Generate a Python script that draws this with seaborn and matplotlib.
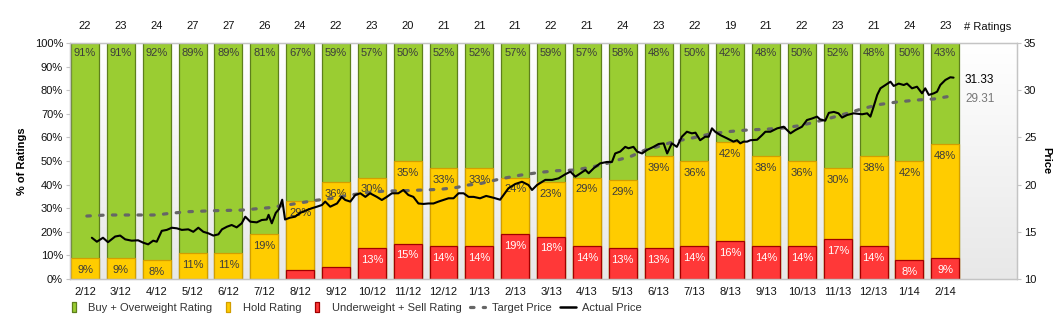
import numpy as np
import pandas as pd
import matplotlib
matplotlib.use("Agg")
import matplotlib.pyplot as plt
import matplotlib.transforms as mtransforms
import seaborn as sns
from matplotlib.lines import Line2D
from matplotlib.colors import LinearSegmentedColormap

sns.set_style("white")
plt.rcParams['font.family'] = ['Liberation Sans', 'DejaVu Sans']

# ---------------- data ----------------
months = ['2/12', '3/12', '4/12', '5/12', '6/12', '7/12', '8/12', '9/12', '10/12', '11/12',
          '12/12', '1/13', '2/13', '3/13', '4/13', '5/13', '6/13', '7/13', '8/13', '9/13',
          '10/13', '11/13', '12/13', '1/14', '2/14']
num_ratings = [22, 23, 24, 27, 27, 26, 24, 22, 23, 20, 21, 21, 21, 22, 21, 24, 23, 22, 19, 21,
               22, 23, 21, 24, 23]
buy_pct = [91, 91, 92, 89, 89, 81, 67, 59, 57, 50, 52, 52, 57, 59, 57, 58, 48, 50, 42, 48,
           50, 52, 48, 50, 43]
hold_pct = [9, 9, 8, 11, 11, 19, 29, 36, 30, 35, 33, 33, 24, 23, 29, 29, 39, 36, 42, 38,
            36, 30, 38, 42, 48]
sell_pct = [0, 0, 0, 0, 0, 0, 4, 5, 13, 15, 14, 14, 19, 18, 14, 13, 13, 14, 16, 14,
            14, 17, 14, 8, 9]

# price series (x = months since the 2/12 bar)
actual_month = [0.19, 0.33, 0.50, 0.64, 0.84, 0.98, 1.12, 1.30, 1.48, 1.62,
                1.76, 1.90, 2.00, 2.14, 2.28, 2.42, 2.56, 2.70, 2.88, 3.02,
                3.16, 3.30, 3.44, 3.58, 3.72, 3.82, 3.96, 4.09, 4.23, 4.37,
                4.47, 4.61, 4.79, 4.93, 5.07, 5.12, 5.21, 5.32, 5.41, 5.50,
                5.58, 5.72, 5.86, 6.00, 6.19, 6.33, 6.47, 6.61, 6.70, 6.84,
                7.03, 7.16, 7.26, 7.40, 7.54, 7.68, 7.82, 7.95, 8.14, 8.28,
                8.42, 8.56, 8.74, 8.88, 9.02, 9.16, 9.30, 9.44, 9.58, 9.72,
                9.86, 10.00, 10.14, 10.28, 10.42, 10.56, 10.70, 10.84, 11.02, 11.19,
                11.40, 11.58, 11.81, 12.00, 12.19, 12.37, 12.47, 12.61, 12.84, 13.03,
                13.21, 13.40, 13.54, 13.68, 13.82, 13.96, 14.05, 14.19, 14.37, 14.56,
                14.70, 14.79, 14.93, 15.07, 15.16, 15.30, 15.40, 15.54, 15.68, 15.86,
                16.00, 16.14, 16.24, 16.37, 16.51, 16.65, 16.79, 16.93, 17.03, 17.16,
                17.30, 17.40, 17.49, 17.58, 17.72, 17.91, 18.09, 18.19, 18.28, 18.37,
                18.47, 18.56, 18.75, 18.89, 18.98, 19.12, 19.31, 19.49, 19.68, 19.82,
                20.00, 20.14, 20.28, 20.42, 20.51, 20.65, 20.75, 20.89, 21.02, 21.12,
                21.26, 21.44, 21.68, 21.82, 21.91, 22.00, 22.10, 22.19, 22.33, 22.47,
                22.56, 22.70, 22.84, 22.93, 23.07, 23.21, 23.35, 23.44, 23.54, 23.68,
                23.77, 23.86, 24.00, 24.14, 24.23]
actual_price = [14.37, 13.95, 14.37, 13.90, 14.50, 14.60, 14.20, 14.06, 14.10, 13.85,
                13.67, 14.06, 13.95, 15.10, 15.20, 15.43, 15.37, 15.20, 15.26, 15.00,
                15.43, 15.00, 14.84, 14.60, 14.73, 15.26, 15.54, 15.72, 15.47, 15.90,
                16.60, 16.07, 16.00, 16.25, 16.30, 16.80, 15.90, 17.00, 17.40, 18.40,
                16.30, 16.50, 16.60, 17.00, 17.30, 17.50, 17.66, 17.84, 18.20, 17.66,
                18.00, 18.70, 18.37, 18.20, 18.90, 19.08, 18.70, 19.08, 18.70, 18.37,
                18.70, 19.08, 19.08, 19.43, 18.90, 18.70, 18.00, 17.95, 18.00, 18.00,
                18.20, 18.37, 18.55, 18.55, 19.08, 19.08, 18.70, 18.70, 18.55, 18.80,
                18.60, 18.40, 19.60, 20.06, 20.30, 19.96, 19.43, 19.96, 20.50, 20.50,
                20.66, 21.10, 21.37, 20.84, 21.20, 21.55, 21.20, 21.73, 22.25, 22.40,
                22.40, 23.30, 23.50, 24.00, 23.85, 24.00, 23.50, 23.30, 23.67, 24.00,
                24.30, 24.37, 23.30, 24.37, 24.00, 25.07, 25.60, 25.43, 25.50, 24.70,
                25.07, 25.07, 25.96, 25.60, 25.25, 24.90, 24.55, 24.70, 24.37, 24.55,
                24.55, 24.70, 24.75, 25.25, 25.60, 25.60, 25.96, 26.13, 25.43, 25.78,
                26.13, 26.84, 27.00, 27.20, 26.90, 26.77, 27.60, 27.70, 27.55, 27.10,
                27.37, 27.55, 27.45, 27.55, 27.20, 28.25, 29.50, 30.20, 30.55, 30.90,
                30.45, 30.70, 30.55, 30.70, 30.20, 30.37, 29.67, 30.20, 29.50, 29.67,
                29.84, 30.55, 31.08, 31.37, 31.33]
target_month = [0.05, 0.61, 1.35, 1.91, 2.14, 2.37, 2.88, 3.63, 4.37, 5.12,
                5.91, 6.37, 6.89, 7.40, 7.86, 8.37, 8.88, 9.44, 9.91, 10.37,
                10.70, 11.02, 11.58, 12.14, 12.70, 13.16, 13.68, 14.19, 14.56, 14.93,
                15.21, 15.63, 15.96, 16.42, 16.98, 17.44, 17.91, 18.47, 18.93, 19.40,
                19.86, 20.23, 20.70, 21.26, 21.72, 22.19, 22.65, 23.21, 23.68, 24.05]
target_price = [16.67, 16.78, 16.78, 16.78, 16.85, 16.96, 17.13, 17.24, 17.30, 17.55,
                18.00, 18.30, 18.55, 18.90, 19.14, 19.32, 19.35, 19.43, 19.50, 19.70,
                19.96, 20.10, 20.60, 21.00, 21.30, 21.47, 21.55, 21.90, 22.25, 22.68,
                22.96, 23.67, 24.00, 24.55, 24.97, 25.36, 25.60, 25.78, 25.86, 25.96,
                26.20, 26.50, 26.95, 27.55, 28.08, 28.50, 28.75, 28.96, 29.07, 29.31]
last_actual = 31.33
last_target = 29.31

legend_labels = ['Buy + Overweight Rating', 'Hold Rating', 'Underweight + Sell Rating',
                 'Target Price', 'Actual Price']

# ---------------- styling ----------------
GREEN, GREEN_EDGE = '#9acd32', '#5e7f1c'
YELLOW, YELLOW_EDGE = '#ffcc00', '#d29e00'
RED, RED_EDGE = '#ff3838', '#a00000'
TARGET_C = '#666666'
SPINE_C = '#c4c4c4'
TXT = '#111111'

W, H = 1054, 323
fig = plt.figure(figsize=(W / 100, H / 100), dpi=100)
ax = fig.add_axes([70 / W, 1 - 279 / H, (1017 - 70) / W, (279 - 43) / H])

# background gradient
grad = np.linspace(1, 0, 256).reshape(-1, 1)
cmap = LinearSegmentedColormap.from_list('bg', ['#ffffff', '#e8e8e8'])
ax.imshow(grad, extent=(0, 1, 0, 1), origin='lower', transform=ax.transAxes,
          aspect='auto', cmap=cmap, vmin=0, vmax=1, zorder=0)

df = pd.DataFrame({'month': months, 'buy': buy_pct, 'hold': hold_pct, 'sell': sell_pct})
df['hold_top'] = df['hold'] + df['sell']
df['full'] = 100
df['sell_bar'] = df['sell'].where(df['sell'] > 0)

bar_kw = dict(x='month', width=0.78, saturation=1, linewidth=0.9, ax=ax, zorder=2)
sns.barplot(data=df, y='full', color=GREEN, edgecolor=GREEN_EDGE, **bar_kw)
sns.barplot(data=df, y='hold_top', color=YELLOW, edgecolor=YELLOW_EDGE, **bar_kw)
sns.barplot(data=df, y='sell_bar', color=RED, edgecolor=RED_EDGE, **bar_kw)

# bar labels
for i, (b, h, s) in enumerate(zip(buy_pct, hold_pct, sell_pct)):
    ax.annotate(f'{b}%', (i, 100), xytext=(0, -7.5), textcoords='offset points',
                ha='center', va='center', fontsize=8, color='#3c3c3c', zorder=5)
    ax.annotate(f'{h}%', (i, h + s), xytext=(0, -8.5), textcoords='offset points',
                ha='center', va='center', fontsize=8, color='#3c3c3c', zorder=5)
    if s > 5:
        ax.annotate(f'{s}%', (i, s), xytext=(0, -8.5), textcoords='offset points',
                    ha='center', va='center', fontsize=8, color='white', zorder=5)

# rating counts on top
blend = mtransforms.blended_transform_factory(ax.transData, ax.transAxes)
for i, c in enumerate(num_ratings):
    ax.text(i, 1.072, str(c), transform=blend, ha='center', va='center',
            fontsize=8, color=TXT, clip_on=False)
ax.text(24.53, 1.068, '# Ratings', transform=blend, ha='left', va='center',
        fontsize=8, color=TXT, clip_on=False)

ax.set_ylim(0, 100)
ax.set_yticks(range(0, 101, 10))
ax.set_yticklabels([f'{v}%' for v in range(0, 101, 10)])
ax.set_xlabel('')
ax.set_ylabel('')

# price lines
ax2 = ax.twinx()
sns.lineplot(x=target_month, y=target_price, ax=ax2, color=TARGET_C, linewidth=2.3,
             linestyle=(0, (1.1, 2.9)), dash_capstyle='round', legend=False)
sns.lineplot(x=actual_month, y=actual_price, ax=ax2, color='black', linewidth=1.5,
             legend=False)
ax2.annotate(f'{last_actual:.2f}', (24.55, last_actual), xytext=(0, -2),
             textcoords='offset points', ha='left', va='center', fontsize=8.5, color='black')
ax2.annotate(f'{last_target:.2f}', (24.55, last_target), xytext=(0, -2),
             textcoords='offset points', ha='left', va='center', fontsize=8.5, color='#777777')
ax2.set_ylim(10, 35)
ax2.set_yticks(range(10, 36, 5))
ax2.set_ylabel('')

ax.set_xlim(-0.42, 26.0)

# ticks & spines
ax.tick_params(axis='y', left=True, length=3, width=0.8, color=SPINE_C, pad=2,
               labelsize=8, labelcolor=TXT)
ax.tick_params(axis='x', bottom=False, length=0, pad=6, labelsize=8, labelcolor=TXT)
ax2.tick_params(axis='y', right=True, length=3, width=0.8, color=SPINE_C, pad=2,
                labelsize=8, labelcolor=TXT)
for a in (ax, ax2):
    for sp in a.spines.values():
        sp.set_visible(True)
        sp.set_color(SPINE_C)
        sp.set_linewidth(0.9)

fig.text(22 / W, 1 - 161 / H, '% of Ratings', rotation=90, fontsize=8, fontweight='bold',
         ha='center', va='center', color='black')
fig.text(1046 / W, 1 - 161 / H, 'Price', rotation=270, fontsize=8, fontweight='bold',
         ha='center', va='center', color='black')

# legend
rect = [(-0.5, -1), (0.5, -1), (0.5, 1), (-0.5, 1), (-0.5, -1)]
handles = [
    Line2D([], [], marker=rect, ls='none', markersize=7, mfc=GREEN, mec=GREEN_EDGE, mew=0.9),
    Line2D([], [], marker=rect, ls='none', markersize=7, mfc=YELLOW, mec=YELLOW_EDGE, mew=0.9),
    Line2D([], [], marker=rect, ls='none', markersize=7, mfc=RED, mec=RED_EDGE, mew=0.9),
    Line2D([], [], color=TARGET_C, lw=2.3, ls=(0, (1.1, 2.9)), dash_capstyle='round'),
    Line2D([], [], color='black', lw=1.8),
]
fig.legend(handles, legend_labels, loc='center', bbox_to_anchor=(354 / W, 1 - 308 / H),
           ncol=5, frameon=False, fontsize=8, handlelength=1.4, handletextpad=0.6,
           columnspacing=0.75, labelcolor='#333333', borderaxespad=0, borderpad=0)

fig.savefig('out.png', dpi=100)
